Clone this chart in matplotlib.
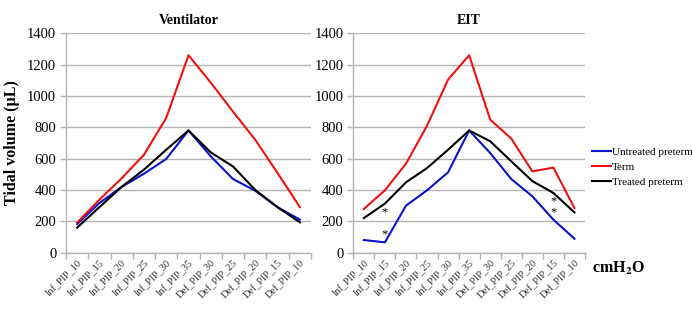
import numpy as np
import matplotlib
matplotlib.use('Agg')
import matplotlib.pyplot as plt

plt.rcParams['font.family'] = ['Liberation Serif', 'DejaVu Serif']
plt.rcParams['mathtext.fontset'] = 'stix'

categories = ['Inf_PIP_10', 'Inf_PIP_15', 'Inf_PIP_20', 'Inf_PIP_25', 'Inf_PIP_30', 'Inf_PIP_35',
              'Def_PIP_30', 'Def_PIP_25', 'Def_PIP_20', 'Def_PIP_15', 'Def_PIP_10']

# Ventilator panel
vent_untreated = [183, 317, 420, 504, 598, 780, 615, 470, 395, 290, 211]
vent_term = [192, 338, 475, 625, 860, 1260, 1085, 900, 720, 508, 291]
vent_treated = [160, 291, 420, 530, 657, 780, 640, 550, 400, 290, 194]

# EIT panel
eit_untreated = [81, 66, 300, 398, 513, 780, 636, 470, 360, 211, 89]
eit_term = [279, 398, 568, 810, 1105, 1260, 849, 728, 519, 543, 285]
eit_treated = [221, 313, 449, 540, 657, 780, 711, 583, 457, 381, 257]

# significance stars on EIT panel: (category index, value)
stars = [(1, 115), (1, 255), (9, 255), (9, 326)]

blue = '#0a14c8'
red = '#ee1111'
black = '#000000'
grid_c = '#b4b4b4'

fig = plt.figure(figsize=(6.92, 3.10), dpi=100)
ax1 = fig.add_axes([66 / 692, 1 - 252.7 / 310, 245 / 692, 219.4 / 310])
ax2 = fig.add_axes([353.3 / 692, 1 - 252.7 / 310, 231.7 / 692, 219.4 / 310])

x = np.arange(len(categories))


def style(ax, title):
    ax.set_xlim(-0.5, len(categories) - 0.5)
    ax.set_ylim(0, 1400)
    ax.set_yticks(np.arange(0, 1401, 200))
    ax.yaxis.grid(True, color=grid_c, lw=1.0)
    ax.set_axisbelow(True)
    for s in ['top', 'right']:
        ax.spines[s].set_visible(False)
    for s in ['left', 'bottom']:
        ax.spines[s].set_color(grid_c)
        ax.spines[s].set_linewidth(1.0)
    ax.set_xticks(x)
    ax.set_xticklabels(categories, rotation=45, ha='right', rotation_mode='anchor',
                       fontsize=7.3, color='#333333')
    ax.tick_params(axis='x', which='major', length=0, pad=4)
    ax.set_xticks(np.arange(-0.5, len(categories)), minor=True)
    ax.tick_params(axis='x', which='minor', length=4, color=grid_c, width=1.0)
    ax.tick_params(axis='y', length=4, color=grid_c, width=1.0, labelsize=10.5, pad=3)
    ax.set_title(title, fontsize=10, fontweight='bold', pad=7)


ax1.plot(x, vent_untreated, color=blue, lw=1.5, label='Untreated preterm')
ax1.plot(x, vent_term, color=red, lw=1.5, label='Term')
ax1.plot(x, vent_treated, color=black, lw=1.5, label='Treated preterm')
style(ax1, 'Ventilator')
ax1.set_ylabel('Tidal volume (\u00b5L)', fontsize=11.5, fontweight='bold', labelpad=5)

ax2.plot(x, eit_untreated, color=blue, lw=1.5, label='Untreated preterm')
ax2.plot(x, eit_term, color=red, lw=1.5, label='Term')
ax2.plot(x, eit_treated, color=black, lw=1.5, label='Treated preterm')
style(ax2, 'EIT')

for xi, yv in stars:
    ax2.text(xi, yv, '*', ha='center', va='center', fontsize=9)

fig.legend(*ax2.get_legend_handles_labels(), loc='center left',
           bbox_to_anchor=(592 / 692, 1 - 167 / 310), frameon=False,
           fontsize=8, handlelength=1.7, handletextpad=0.1, labelspacing=0.45,
           borderaxespad=0, borderpad=0)

fig.text(592 / 692, 1 - 268 / 310, r'cmH$_\mathbf{2}$O', fontsize=11.5,
         fontweight='bold', va='center', ha='left')

fig.savefig('out.png', dpi=100)
